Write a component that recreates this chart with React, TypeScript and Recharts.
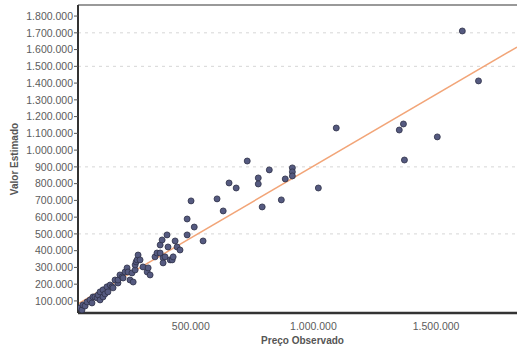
import { ScatterChart, Scatter, XAxis, YAxis, CartesianGrid, ReferenceLine } from "recharts";

// preço observado x valor estimado (leitura aproximada do gráfico)
const observado = [
  48000, 56000, 60000, 69000, 77000, 89000, 97000, 101000, 109000, 118000,
  122000, 130000, 130000, 142000, 142000, 150000, 158000, 162000, 171000, 179000,
  183000, 191000, 203000, 203000, 211000, 220000, 224000, 232000, 240000, 244000,
  252000, 260000, 265000, 273000, 273000, 277000, 281000, 285000, 293000, 305000,
  322000, 326000, 334000, 354000, 362000, 375000, 375000, 383000, 387000, 387000,
  395000, 403000, 407000, 416000, 424000, 428000, 436000, 444000, 456000, 485000,
  485000, 501000, 514000, 550000, 607000, 632000, 656000, 685000, 730000, 775000,
  775000, 791000, 820000, 869000, 885000, 914000, 914000, 914000, 1020000, 1093000,
  1350000, 1367000, 1371000, 1505000, 1607000, 1673000,
];

const estimado = [
  58000, 46000, 76000, 70000, 94000, 106000, 88000, 124000, 124000, 118000,
  136000, 106000, 154000, 124000, 166000, 142000, 184000, 154000, 195000, 184000,
  178000, 225000, 207000, 225000, 255000, 243000, 237000, 273000, 297000, 273000,
  225000, 267000, 213000, 285000, 315000, 333000, 345000, 374000, 345000, 303000,
  273000, 297000, 255000, 363000, 386000, 434000, 386000, 464000, 357000, 327000,
  363000, 494000, 422000, 345000, 345000, 363000, 458000, 422000, 404000, 589000,
  494000, 697000, 541000, 458000, 709000, 637000, 804000, 774000, 935000, 834000,
  798000, 661000, 882000, 703000, 828000, 894000, 870000, 846000, 774000, 1132000,
  1120000, 1156000, 941000, 1079000, 1711000, 1413000,
];

// reta ajustada (dois extremos)
const retaX = [40000, 1830000];
const retaY = [82000, 1615000];

const yTicks = [
  100000, 200000, 300000, 400000, 500000, 600000, 700000, 800000, 900000,
  1000000, 1100000, 1200000, 1300000, 1400000, 1500000, 1600000, 1700000, 1800000,
];
const xTicks = [500000, 1000000, 1500000];
const gradeY = [500000, 900000, 1400000, 1500000, 1600000, 1700000];

const X_MIN = 40000;
const X_MAX = 1830000;
const Y_MIN = 28000;
const Y_MAX = 1866000;

const pontos = observado.map((x, i) => ({ x, y: estimado[i] }));

const fmt = (v: number) => String(v).replace(/\B(?=(\d{3})+(?!\d))/g, ".");

const tickStyle = { fontSize: 10.5, fill: "#5c5c5c", fontFamily: "Liberation Sans, Arial, sans-serif" };

function Ponto(props: any) {
  const { cx, cy } = props;
  return <circle cx={cx} cy={cy} r={3} fill="#555a80" stroke="#2f3148" strokeWidth={0.8} />;
}

export default function App() {
  return (
    <div style={{ position: "absolute", left: 0, top: 0, background: "#fff" }}>
      <ScatterChart width={517} height={347} margin={{ top: 5, right: 0, bottom: 0, left: 0 }}>
        <CartesianGrid
          horizontal
          vertical={false}
          horizontalValues={gradeY}
          stroke="#d6d6d6"
          strokeDasharray="3 4"
        />
        <XAxis
          type="number"
          dataKey="x"
          domain={[X_MIN, X_MAX]}
          ticks={xTicks}
          allowDataOverflow
          height={34}
          tickLine={false}
          tickMargin={4}
          tickFormatter={fmt}
          tick={tickStyle}
          axisLine={{ stroke: "#333", strokeWidth: 2.5 }}
          label={{
            content: (p: any) => {
              const vb = p.viewBox;
              return (
                <text
                  x={vb.x + vb.width / 2 + 5}
                  y={344}
                  textAnchor="middle"
                  fontSize={10}
                  fontWeight="bold"
                  fill="#555"
                  fontFamily="Liberation Sans, Arial, sans-serif"
                >
                  Preço Observado
                </text>
              );
            },
          }}
        />
        <YAxis
          type="number"
          dataKey="y"
          domain={[Y_MIN, Y_MAX]}
          ticks={yTicks}
          allowDataOverflow
          width={78}
          tickSize={4}
          tickMargin={1}
          tickFormatter={fmt}
          tick={tickStyle}
          tickLine={{ stroke: "#555" }}
          axisLine={{ stroke: "#333", strokeWidth: 2 }}
          label={{
            content: (p: any) => {
              const vb = p.viewBox;
              const cy = vb.y + vb.height / 2;
              return (
                <text
                  x={15}
                  y={cy}
                  transform={`rotate(-90, 15, ${cy})`}
                  textAnchor="middle"
                  dominantBaseline="middle"
                  fontSize={10}
                  fontWeight="bold"
                  fill="#555"
                  fontFamily="Liberation Sans, Arial, sans-serif"
                >
                  Valor Estimado
                </text>
              );
            },
          }}
        />
        <ReferenceLine y={Y_MAX} stroke="#777" strokeWidth={1.5} />
        <ReferenceLine
          segment={[
            { x: retaX[0], y: retaY[0] },
            { x: retaX[1], y: retaY[1] },
          ]}
          stroke="#f2a578"
          strokeWidth={1.5}
        />
        <Scatter data={pontos} shape={<Ponto />} isAnimationActive={false} />
      </ScatterChart>
    </div>
  );
}
